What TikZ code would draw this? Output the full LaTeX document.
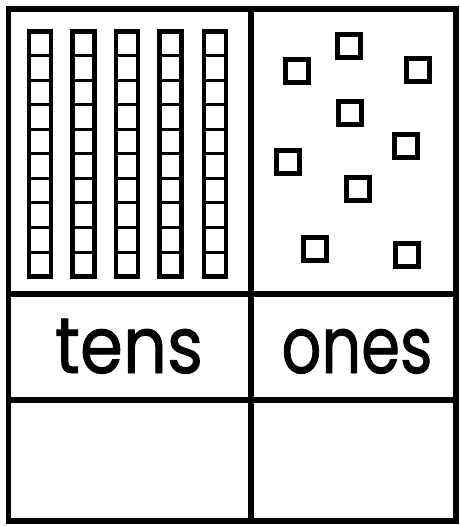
\documentclass[tikz,border=0pt]{standalone}
\usepackage{fontspec}
\setmainfont{Poppins}[FakeBold=1.2]
\newsavebox\onesbx
\newsavebox\tensbx
\tikzset{
  frameline/.style={line width=5.5pt, line cap=rect},
  rodbox/.style={line width=4.8pt},
  rodcell/.style={line width=3pt},
  cube/.style={draw, line width=4.8pt, minimum size=23.5pt, inner sep=0pt, fill=white},
  word/.style={anchor=base, inner sep=0pt}
}
\begin{document}
\sbox\onesbx{ones}\sbox\tensbx{tens}%
\begin{tikzpicture}[x=1pt,y=-1pt]
\useasboundingbox (0,0) rectangle (459,526);
\fill[white] (0,0) rectangle (459,526);
% frame
\draw[frameline] (8.5,9) rectangle (456,521);
\draw[frameline] (251,9) -- (251,521);
\draw[frameline] (8.5,294) -- (456,294);
\draw[frameline] (8.5,400) -- (456,400);
% rods (tens)
\foreach \cx in {40,83.5,127,170.5,215}{
  \foreach \k in {1,...,9}{
    \draw[rodcell] (\cx-11,31.5+\k*24.5) -- (\cx+11,31.5+\k*24.5);
  }
  \draw[rodbox] (\cx-11,31.5) rectangle (\cx+11,276.5);
}
% ones
\node[cube] (o1) at (349,46) {};
\node[cube] (o2) at (297,71) {};
\node[cube] (o3) at (418,70) {};
\node[cube] (o4) at (350,113) {};
\node[cube] (o5) at (406,146) {};
\node[cube] (o6) at (288,162) {};
\node[cube] (o7) at (358,189) {};
\node[cube] (o8) at (315,249) {};
\node[cube] (o9) at (407,255) {};
% labels
\node[word] (tens) at (129,373) {\resizebox{148pt}{\dimexpr 44pt*\ht\tensbx/\ht\onesbx\relax}{tens}};
\node[word] (ones) at (357,373) {\resizebox{151pt}{44pt}{ones}};
\end{tikzpicture}
\end{document}
